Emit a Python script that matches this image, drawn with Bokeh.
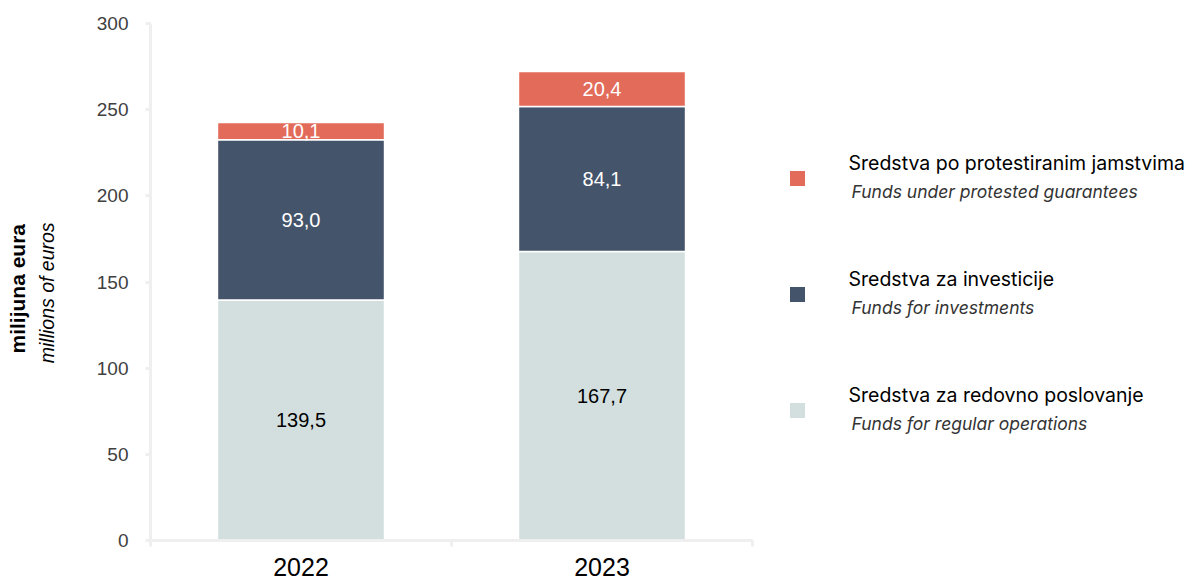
from bokeh.plotting import figure
from bokeh.models import Range1d, FixedTicker, Title, ColumnDataSource
from bokeh.core.properties import value
from bokeh.embed import file_html
from bokeh.resources import INLINE

# ---- data ----
years = ["2022", "2023"]
regular = [139.5, 167.7]      # Sredstva za redovno poslovanje
investments = [93.0, 84.1]    # Sredstva za investicije
protested = [10.1, 20.4]      # Sredstva po protestiranim jamstvima
series_hr = ["Sredstva za redovno poslovanje", "Sredstva za investicije",
             "Sredstva po protestiranim jamstvima"]
series_en = ["Funds for regular operations", "Funds for investments",
             "Funds under protested guarantees"]
y_ticks = [0, 50, 100, 150, 200, 250, 300]

# ---- style ----
colors = ["#D3DFDF", "#44546A", "#E26B5A"]
label_colors = ["#000000", "#FFFFFF", "#FFFFFF"]
axis_grey = "#EFEFEF"
FONT = "Liberation Sans"
LFONT = "Inter"

OX = 0                      # observed horizontal page offset of the canvas
W, H = 1192, 581
LEFT, TOP, BOTTOM = 150, 23, 41
frame_w = W - LEFT
frame_h = H - TOP - BOTTOM
px_per_cat = 301.0
x0 = 0.5
x_end = x0 + frame_w / px_per_cat

p = figure(width=W, height=H, x_range=Range1d(x0, x_end), y_range=Range1d(0, 300),
           output_backend="svg", toolbar_location=None,
           min_border_left=LEFT, min_border_top=TOP, min_border_bottom=BOTTOM,
           min_border_right=0, outline_line_color=None, background_fill_color="white")
p.xgrid.visible = False
p.ygrid.visible = False

xs = [i + 1 for i in range(len(years))]
stack = [regular, investments, protested]
bottoms = [0.0] * len(years)
lab_x, lab_y, lab_t, lab_c = [], [], [], []
for k, ser in enumerate(stack):
    tops = [b + v for b, v in zip(bottoms, ser)]
    p.vbar(x=xs, bottom=bottoms, top=tops, width=0.555,
           fill_color=colors[k], line_color="white", line_width=1.5)
    for i, v in enumerate(ser):
        lab_x.append(xs[i])
        lab_y.append((bottoms[i] + tops[i]) / 2)
        lab_t.append(f"{v:.1f}".replace(".", ","))
        lab_c.append(label_colors[k])
    bottoms = tops

src = ColumnDataSource(dict(x=lab_x, y=lab_y, t=lab_t, c=lab_c))
p.text(x="x", y="y", text="t", text_color="c", source=src, text_align="center",
       text_baseline="middle", text_font=value(FONT), text_font_size="20px")

# ---- legend (custom, two-line entries) ----
ppu_y = frame_h / 300.0
def px_to_x(px):
    return x0 + (px - (LEFT + OX)) / px_per_cat
def py_to_y(py):
    return (TOP + frame_h - py) / ppu_y

order = [2, 1, 0]
sq_py = [178, 294, 410]
for j, k in enumerate(order):
    p.scatter(x=[px_to_x(797)], y=[py_to_y(sq_py[j])], marker="square", size=15,
              fill_color=colors[k], line_color=None)
    p.text(x=[px_to_x(848)], y=[py_to_y(sq_py[j] - 16)], text=[series_hr[k]],
           text_font=value(LFONT), text_font_size="19.5px", text_color="#000000",
           text_align="left", text_baseline="middle")
    p.text(x=[px_to_x(851)], y=[py_to_y(sq_py[j] + 13)], text=[series_en[k]],
           text_font=value(LFONT), text_font_size="17.5px", text_color="#333333",
           text_font_style="italic", text_align="left", text_baseline="middle")

# ---- y axis ----
ya = p.yaxis[0]
ya.ticker = FixedTicker(ticks=y_ticks)
ya.axis_line_color = axis_grey
ya.axis_line_width = 3
ya.major_tick_out = 5
ya.major_tick_in = 0
ya.major_tick_line_color = axis_grey
ya.major_tick_line_width = 3
ya.minor_tick_out = 0
ya.minor_tick_in = 0
ya.major_label_text_font = FONT
ya.major_label_text_font_size = "19px"
ya.major_label_text_color = "#404040"
ya.major_label_standoff = 17
ya.axis_label = "millions of euros" + "\u00a0" * 4
ya.axis_label_text_font = FONT
ya.axis_label_text_font_style = "italic"
ya.axis_label_text_font_size = "19.5px"
ya.axis_label_text_color = "#000000"
ya.axis_label_standoff = 36

p.add_layout(Title(text="milijuna eura", text_font=FONT, text_font_style="bold",
                   text_font_size="21px", text_color="#000000", align="left",
                   offset=187, standoff=7), "left")

# ---- x axis ----
xa = p.xaxis[0]
xa.ticker = FixedTicker(ticks=xs, minor_ticks=[x - 0.5 for x in xs] + [xs[-1] + 0.5])
xa.major_label_overrides = {x: y for x, y in zip(xs, years)}
xa.bounds = (xs[0] - 0.5, xs[-1] + 0.5)
xa.axis_line_color = axis_grey
xa.axis_line_width = 3
xa.major_tick_out = 0
xa.major_tick_in = 0
xa.minor_tick_out = 6
xa.minor_tick_in = 0
xa.minor_tick_line_color = axis_grey
xa.minor_tick_line_width = 3
xa.major_label_text_font = FONT
xa.major_label_text_font_size = "25px"
xa.major_label_text_color = "#000000"
xa.major_label_standoff = 11

open("out.html", "w").write(file_html(p, INLINE))
